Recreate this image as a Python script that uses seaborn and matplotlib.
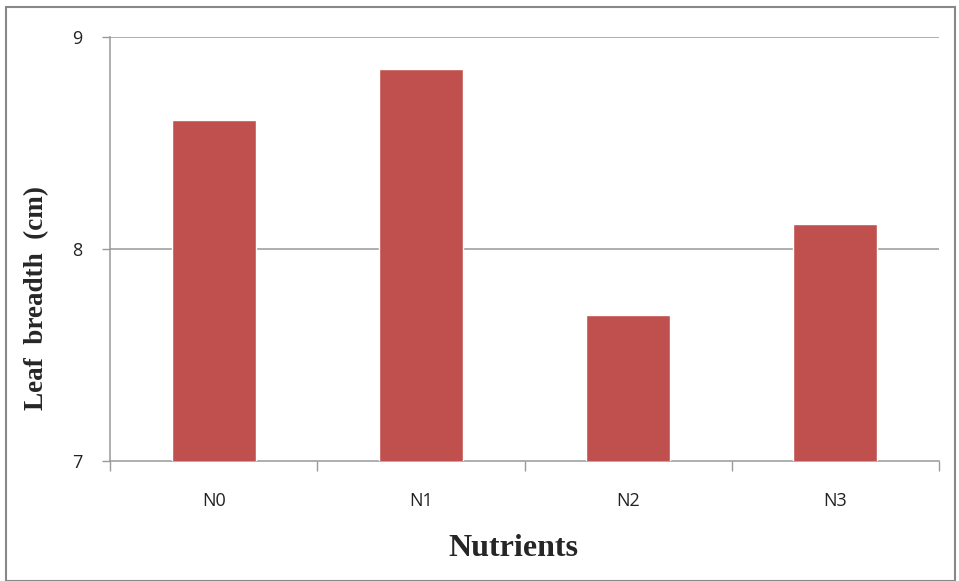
import matplotlib
matplotlib.use("Agg")
import matplotlib.pyplot as plt
import matplotlib.patches as mpatches
import seaborn as sns
import pandas as pd

categories = ["N0", "N1", "N2", "N3"]
leaf_breadth = [8.61, 8.85, 7.69, 8.12]
y_ticks = [7, 8, 9]

df = pd.DataFrame({"Nutrients": categories, "Leaf breadth": leaf_breadth})

sns.set_theme(style="white")
plt.rcParams["font.family"] = ["Open Sans", "DejaVu Sans"]

fig = plt.figure(figsize=(9.59, 5.81), dpi=100)
ax = fig.add_axes([110 / 959, 120 / 581, 829 / 959, 424 / 581])

sns.barplot(data=df, x="Nutrients", y="Leaf breadth", color="#C0504D",
            saturation=1, width=0.405, ax=ax, zorder=3)

ax.set_ylim(7, 9)
ax.set_xlim(-0.5, 3.5)
ax.set_yticks(y_ticks)
ax.set_yticklabels([str(t) for t in y_ticks], fontsize=13, color="#222222")

# category boundary ticks on x, labels at centres
ax.set_xticks([i - 0.5 for i in range(len(categories) + 1)])
ax.set_xticklabels([])
ax.set_xticks(range(len(categories)), minor=True)
ax.set_xticklabels(categories, minor=True, fontsize=13, color="#222222")
ax.tick_params(axis="x", which="major", bottom=True, direction="out",
               length=7, width=1, color="#999999")
ax.tick_params(axis="x", which="minor", bottom=True, length=0, pad=22)
ax.tick_params(axis="y", direction="out", length=6, width=1, color="#999999",
               pad=14, left=True)

for v in y_ticks[1:]:
    ax.axhline(v, color="#999999", linewidth=1.1, zorder=1)

for side in ["top", "right"]:
    ax.spines[side].set_visible(False)
for side in ["left", "bottom"]:
    ax.spines[side].set_color("#999999")
    ax.spines[side].set_linewidth(1.1)

ax.set_xlabel("Nutrients", fontsize=23, fontweight="bold",
              family=["Liberation Serif", "DejaVu Serif"])
ax.xaxis.set_label_coords(0.486, -0.172)
ax.set_ylabel("Leaf  breadth  (cm)", fontsize=19.5, fontweight="bold",
              family=["Liberation Serif", "DejaVu Serif"])
ax.yaxis.set_label_coords(-0.073, 0.384)

fig.patches.append(mpatches.Rectangle((6 / 959, 0), 949 / 959, 574 / 581,
                                      transform=fig.transFigure, fill=False,
                                      edgecolor="#888888", linewidth=1.5))

fig.savefig("out.png", dpi=100)
